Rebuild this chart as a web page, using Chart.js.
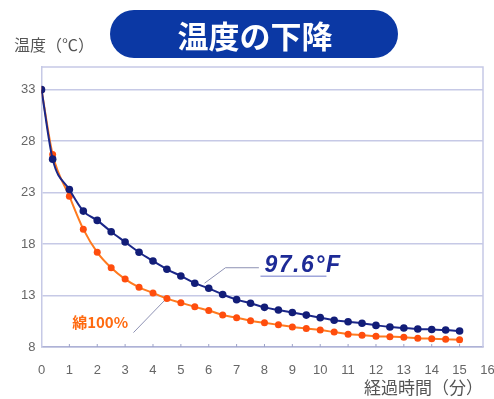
<!DOCTYPE html>
<html>
<head>
<meta charset="utf-8">
<script src="https://cdn.jsdelivr.net/npm/chart.js@4/dist/chart.umd.min.js"></script>
<style>
  html, body { margin: 0; padding: 0; background: #ffffff; }
  #wrap { width: 494px; height: 399px; position: relative; }
</style>
</head>
<body>
<div id="wrap"><canvas id="chart"></canvas></div>
<script>
var TITLE = "温度の下降";
var Y_TITLE = "温度（℃）";
var X_TITLE = "経過時間（分）";

// minutes after start
var times = [0, 0.4, 1, 1.5, 2, 2.5, 3, 3.5, 4, 4.5, 5, 5.5, 6, 6.5, 7, 7.5,
  8, 8.5, 9, 9.5, 10, 10.5, 11, 11.5, 12, 12.5, 13, 13.5, 14, 14.5, 15];

// 97.6°F series (navy)
var series976 = [33, 26.25, 23.3, 21.2, 20.3, 19.2, 18.2, 17.2, 16.35, 15.55, 14.9, 14.2,
  13.7, 13.1, 12.6, 12.25, 11.85, 11.6, 11.35, 11.1, 10.85, 10.6, 10.45, 10.3,
  10.1, 9.95, 9.85, 9.75, 9.7, 9.65, 9.55];

// 綿100% series (orange)
var seriesCotton = [33, 26.7, 22.65, 19.45, 17.2, 15.7, 14.6, 13.8, 13.25, 12.7, 12.3, 11.9,
  11.55, 11.1, 10.85, 10.55, 10.35, 10.15, 9.95, 9.8, 9.65, 9.45, 9.25, 9.15,
  9.05, 9.0, 8.95, 8.85, 8.8, 8.75, 8.7];

var yTicks = [8, 13, 18, 23, 28, 33];
var xTicks = [0, 1, 2, 3, 4, 5, 6, 7, 8, 9, 10, 11, 12, 13, 14, 15, 16];

var NAVY = "#1b2789";
var ORANGE = "#ff7a1f";
var ORANGE_DOT = "#ff4d0d";
var GRID = "#c6c9e6";
var JP_FONT = "'Noto Sans CJK JP', 'Noto Sans', sans-serif";

function toPoints(values) {
  return values.map(function (v, i) {
    return { x: times[i], y: v };
  });
}

var decorations = {
  id: "decorations",
  beforeDatasetsDraw: function (chart) {
    var ctx = chart.ctx;
    var area = chart.chartArea;
    ctx.save();
    ctx.strokeStyle = GRID;
    ctx.lineWidth = 1.5;
    ctx.beginPath();
    ctx.moveTo(area.left, area.top);
    ctx.lineTo(area.right, area.top);
    ctx.lineTo(area.right, area.bottom);
    ctx.stroke();

    // small inward ticks on the x axis
    var xs = chart.scales.x;
    ctx.strokeStyle = "#9da2c8";
    ctx.lineWidth = 1;
    xTicks.forEach(function (t) {
      var px = xs.getPixelForValue(t);
      if (t === 0 || px > area.right) return;
      ctx.beginPath();
      ctx.moveTo(px, area.bottom);
      ctx.lineTo(px, area.bottom - 3);
      ctx.stroke();
    });

    // leader lines
    var ys = chart.scales.y;
    ctx.strokeStyle = "#8e92b4";
    ctx.lineWidth = 1;
    ctx.beginPath();
    ctx.moveTo(xs.getPixelForValue(5.85), ys.getPixelForValue(14.2));
    ctx.lineTo(xs.getPixelForValue(6.6), ys.getPixelForValue(15.7));
    ctx.lineTo(xs.getPixelForValue(7.8), ys.getPixelForValue(15.7));
    ctx.stroke();
    ctx.beginPath();
    ctx.moveTo(xs.getPixelForValue(3.3), ys.getPixelForValue(9.4));
    ctx.lineTo(xs.getPixelForValue(4.55), ys.getPixelForValue(12.9));
    ctx.stroke();
    ctx.restore();
  },
  afterDraw: function (chart) {
    var ctx = chart.ctx;
    var xs = chart.scales.x;
    var ys = chart.scales.y;
    ctx.save();

    // title pill
    var left = 110, right = 398, top = 10, bottom = 58;
    var r = (bottom - top) / 2;
    ctx.fillStyle = "#0b38a4";
    ctx.beginPath();
    ctx.moveTo(left + r, top);
    ctx.lineTo(right - r, top);
    ctx.arc(right - r, top + r, r, -Math.PI / 2, Math.PI / 2);
    ctx.lineTo(left + r, bottom);
    ctx.arc(left + r, top + r, r, Math.PI / 2, Math.PI * 1.5);
    ctx.closePath();
    ctx.fill();
    ctx.fillStyle = "#ffffff";
    ctx.font = "bold 31px " + JP_FONT;
    ctx.textAlign = "center";
    ctx.textBaseline = "middle";
    ctx.fillText(TITLE, (left + right) / 2 + 1, 36);

    // y axis title
    ctx.fillStyle = "#555555";
    ctx.font = "16px " + JP_FONT;
    ctx.textAlign = "left";
    ctx.fillText(Y_TITLE, 14, 45);

    // 97.6°F label
    var lx = xs.getPixelForValue(8.0);
    var ly = ys.getPixelForValue(15.95);
    ctx.fillStyle = "#1d2a96";
    ctx.font = "italic bold 23px 'Liberation Sans', sans-serif";
    ctx.letterSpacing = "1.5px";
    ctx.textAlign = "left";
    ctx.fillText("97.6°F", lx, ly);
    ctx.letterSpacing = "0px";
    ctx.strokeStyle = "#6f78c8";
    ctx.lineWidth = 1;
    ctx.beginPath();
    ctx.moveTo(lx - 4, ly + 11);
    ctx.lineTo(lx + 62, ly + 11);
    ctx.stroke();

    // 綿100% label
    ctx.fillStyle = "#ff6a10";
    ctx.font = "bold 15px " + JP_FONT;
    ctx.fillText("綿100%", xs.getPixelForValue(1.1), ys.getPixelForValue(10.4));
    ctx.restore();
  }
};

new Chart(document.getElementById("chart"), {
  type: "line",
  data: {
    datasets: [
      {
        label: "97.6°F",
        data: toPoints(series976),
        borderColor: NAVY,
        backgroundColor: "#121d78",
        borderWidth: 2,
        pointRadius: 3.8,
        pointBorderWidth: 0,
        cubicInterpolationMode: "monotone"
      },
      {
        label: "綿100%",
        data: toPoints(seriesCotton),
        borderColor: ORANGE,
        backgroundColor: ORANGE_DOT,
        borderWidth: 2,
        pointRadius: 3.5,
        pointBorderWidth: 0,
        cubicInterpolationMode: "monotone"
      }
    ]
  },
  options: {
    responsive: true,
    maintainAspectRatio: false,
    animation: false,
    layout: { padding: { left: 0, top: 67, right: 11, bottom: 0 } },
    plugins: {
      legend: { display: false },
      tooltip: { enabled: false }
    },
    scales: {
      x: {
        type: "linear",
        min: 0,
        max: 15.84,
        afterBuildTicks: function (axis) {
          axis.ticks = xTicks.map(function (v) { return { value: v }; });
        },
        afterFit: function (axis) {
          axis.height = 52;
          axis.paddingLeft = 0;
          axis.paddingRight = 0;
        },
        grid: { display: false },
        border: { display: true, color: "#aeb2d6", width: 1.5 },
        ticks: {
          color: "#666666",
          padding: 8,
          maxRotation: 0,
          autoSkip: false,
          font: { family: "'Liberation Sans', sans-serif", size: 13 }
        },
        title: {
          display: true,
          text: X_TITLE,
          align: "end",
          color: "#555555",
          padding: { top: 0, bottom: 1 },
          font: { family: JP_FONT, size: 17 }
        }
      },
      y: {
        min: 8,
        max: 35.2,
        afterBuildTicks: function (axis) {
          axis.ticks = yTicks.map(function (v) { return { value: v }; });
        },
        afterFit: function (axis) { axis.width = 41.5; },
        grid: { color: GRID, lineWidth: 1.5, drawTicks: false },
        border: { display: true, color: GRID, width: 1.5 },
        ticks: {
          color: "#666666",
          padding: 6,
          font: { family: "'Liberation Sans', sans-serif", size: 13 }
        }
      }
    }
  },
  plugins: [decorations]
});
</script>
</body>
</html>
